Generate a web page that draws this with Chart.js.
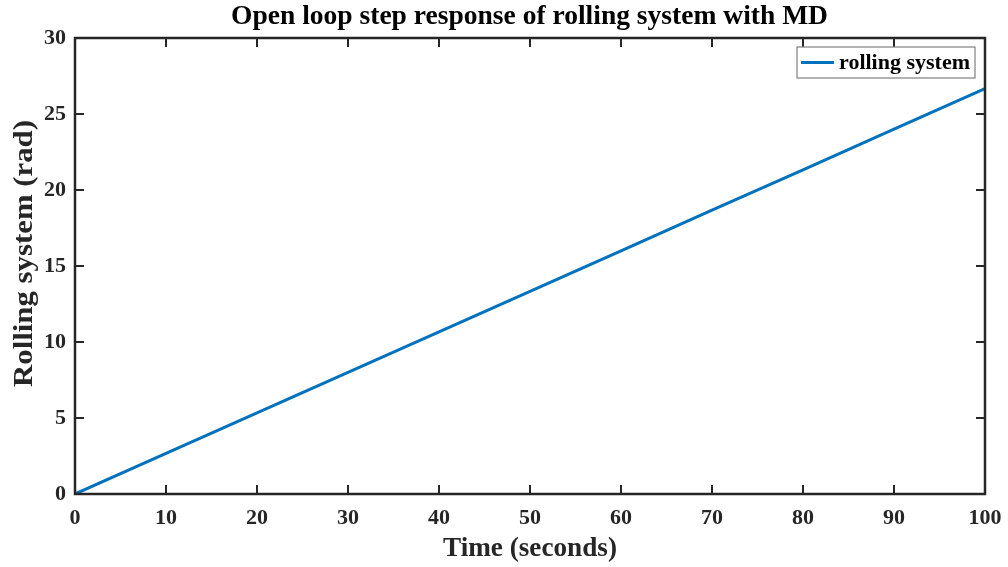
<!DOCTYPE html>
<html>
<head>
<meta charset="utf-8">
<script src="https://cdn.jsdelivr.net/npm/chart.js@4"></script>
<style>
  html, body { margin: 0; padding: 0; background: #fff; }
  #wrap { width: 1008px; height: 567px; }
</style>
</head>
<body>
<div id="wrap"><canvas id="step-chart"></canvas></div>
<script>
const timeSec = [0, 10, 20, 30, 40, 50, 60, 70, 80, 90, 100]
const rollRad = [0, 2.67, 5.33, 8.0, 10.67, 13.33, 16.0, 18.67, 21.33, 24.0, 26.67]
const xTicks = [0, 10, 20, 30, 40, 50, 60, 70, 80, 90, 100]
const yTicks = [0, 5, 10, 15, 20, 25, 30]

const titleText = 'Open loop step response of rolling system with MD'
const xTitle = 'Time (seconds)'
const yTitle = 'Rolling system (rad)'
const seriesName = 'rolling system'

const ink = '#262626'
const serif = '"Liberation Serif", "Times New Roman", serif'

// draw text squeezed/stretched to a given width (matlab export is a bit wide)
function fitText(ctx, txt, x, y, width) {
    const w = ctx.measureText(txt).width
    ctx.save()
    ctx.translate(x, y)
    ctx.scale(width / w, 1)
    ctx.fillText(txt, 0, 0)
    ctx.restore()
}

// matlab style frame, inward ticks, title, axis labels and legend
const matlabFrame = {
    id: 'matlabFrame',
    afterDraw(chart) {
        const ctx = chart.ctx
        const a = chart.chartArea
        const xs = chart.scales.x
        const ys = chart.scales.y
        ctx.save()
        ctx.strokeStyle = ink
        ctx.lineWidth = 2.5
        ctx.strokeRect(a.left, a.top, a.right - a.left, a.bottom - a.top)
        ctx.lineWidth = 2
        ctx.beginPath()
        xTicks.forEach(v => {
            const px = xs.getPixelForValue(v)
            ctx.moveTo(px, a.bottom); ctx.lineTo(px, a.bottom - 9)
            ctx.moveTo(px, a.top); ctx.lineTo(px, a.top + 9)
        })
        yTicks.forEach(v => {
            const py = ys.getPixelForValue(v)
            ctx.moveTo(a.left, py); ctx.lineTo(a.left + 9, py)
            ctx.moveTo(a.right, py); ctx.lineTo(a.right - 9, py)
        })
        ctx.stroke()

        ctx.fillStyle = '#000'
        ctx.textAlign = 'center'
        ctx.textBaseline = 'middle'
        ctx.font = 'bold 27px ' + serif
        fitText(ctx, titleText, 529.5, 17, 597)

        ctx.fillStyle = ink
        ctx.font = 'bold 27px ' + serif
        fitText(ctx, xTitle, 530, 549, 174)
        ctx.save()
        ctx.translate(25, 253.5)
        ctx.rotate(-Math.PI / 2)
        fitText(ctx, yTitle, 0, 0, 267)
        ctx.restore()

        // legend box
        ctx.font = 'bold 22px ' + serif
        const tw = ctx.measureText(seriesName).width
        const bw = tw + 47
        const bx = a.right - 10 - bw
        const by = 47
        const bh = 31
        ctx.fillStyle = '#fff'
        ctx.fillRect(bx, by, bw, bh)
        ctx.strokeStyle = '#7f7f7f'
        ctx.lineWidth = 1.2
        ctx.strokeRect(bx, by, bw, bh)
        ctx.strokeStyle = '#0072BD'
        ctx.lineWidth = 3
        ctx.beginPath()
        ctx.moveTo(bx + 4, by + bh / 2)
        ctx.lineTo(bx + 37, by + bh / 2)
        ctx.stroke()
        ctx.fillStyle = '#000'
        ctx.textAlign = 'left'
        ctx.fillText(seriesName, bx + 42, by + bh / 2 + 1)
        ctx.restore()
    }
}

const data = {
    datasets: [{
        label: seriesName,
        data: timeSec.map((t, i) => ({ x: t, y: rollRad[i] })),
        showLine: true,
        borderColor: '#0072BD',
        borderWidth: 3,
        pointRadius: 0,
        fill: false,
        tension: 0,
    }],
}

const config = {
    type: 'scatter',
    data: data,
    options: {
        responsive: true,
        maintainAspectRatio: false,
        animation: false,
        layout: { padding: { top: 38, right: 23, left: 0, bottom: 0 } },
        plugins: {
            legend: { display: false },
            title: { display: false },
            tooltip: { enabled: false },
        },
        scales: {
            x: {
                type: 'linear',
                min: 0,
                max: 100,
                grid: { display: false, drawTicks: false },
                border: { display: false },
                afterBuildTicks: s => { s.ticks = xTicks.map(v => ({ value: v })) },
                afterFit: s => {
                    s.height = 73
                    s.paddingLeft = 0
                    s.paddingRight = 0
                },
                ticks: {
                    color: ink,
                    padding: 11,
                    maxRotation: 0,
                    font: { family: serif, size: 22, weight: 'bold' },
                },
            },
            y: {
                type: 'linear',
                min: 0,
                max: 30,
                grid: { display: false, drawTicks: false },
                border: { display: false },
                afterBuildTicks: s => { s.ticks = yTicks.map(v => ({ value: v })) },
                afterFit: s => {
                    s.width = 75
                    s.paddingTop = 0
                    s.paddingBottom = 0
                },
                ticks: {
                    color: ink,
                    padding: 9,
                    font: { family: serif, size: 22, weight: 'bold' },
                },
            },
        },
    },
    plugins: [matlabFrame],
}

const stepChart = new Chart(document.querySelector('#step-chart').getContext('2d'), config)
</script>
</body>
</html>
